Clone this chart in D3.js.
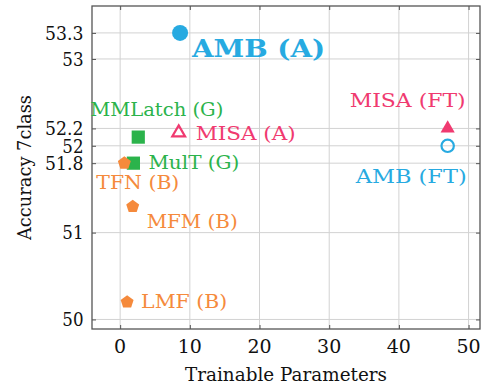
<!DOCTYPE html>
<html>
<head>
<meta charset="utf-8">
<script src="https://cdn.jsdelivr.net/npm/d3@7"></script>
<style>
  html, body { margin: 0; padding: 0; background: #fff; }
</style>
</head>
<body>
<div id="chart"></div>
<script>
"use strict";

// data
const methods = ["AMB (A)", "MMLatch (G)", "MISA (A)", "MulT (G)", "TFN (B)", "MFM (B)", "LMF (B)", "MISA (FT)", "AMB (FT)"];
const params = [8.6, 2.6, 8.4, 1.9, 0.6, 1.8, 1.0, 47, 47];
const accuracy = [53.3, 52.1, 52.15, 51.8, 51.8, 51.3, 50.2, 52.2, 52.0];
const groups = ["amb", "gen", "misa", "gen", "base", "base", "base", "misa", "amb"];
const shapes = ["circle", "square", "otriangle", "square", "pentagon", "pentagon", "pentagon", "triangle", "ocircle"];
const xTicks = [0, 10, 20, 30, 40, 50];
const yTicks = [50, 51, 51.8, 52, 52.2, 53, 53.3];

const colors = { amb: "#27aae1", gen: "#2bb34b", misa: "#f03a70", base: "#f58a3c" };

// label placement relative to marker: dx, dy, anchor, text length, bold
const labelPlace = [
  { dx: 12, dy: 24, anchor: "start", len: 133, bold: true, size: 27 },
  { dx: -48, dy: -21, anchor: "start", len: 133 },
  { dx: 17, dy: 7, anchor: "start", len: 100 },
  { dx: 15, dy: 6, anchor: "start", len: 91 },
  { dx: -28, dy: 26, anchor: "start", len: 83 },
  { dx: 14, dy: 21, anchor: "start", len: 91 },
  { dx: 14, dy: 6, anchor: "start", len: 86 },
  { dx: 18, dy: -21, anchor: "end", len: 116 },
  { dx: 19, dy: 37, anchor: "end", len: 111 },
];

const width = 481;
const height = 385;
const plot = { left: 92, right: 480, top: 6, bottom: 329 };
const serif = "'DejaVu Serif', 'Liberation Serif', serif";

const svg = d3.select("#chart").append("svg")
  .attr("width", width).attr("height", height)
  .attr("font-family", serif);

const x = d3.scaleLinear().domain([-4.04, 51.64]).range([plot.left, plot.right]);
const y = d3.scaleLinear().domain([49.89, 53.61]).range([plot.bottom, plot.top]);

// grid
const grid = svg.append("g");
grid.selectAll(".gx").data(xTicks).join("line")
  .attr("x1", (d) => x(d)).attr("x2", (d) => x(d))
  .attr("y1", plot.top).attr("y2", plot.bottom)
  .attr("stroke", "#d2d2d2").attr("stroke-width", 1);
grid.selectAll(".gy").data(yTicks).join("line")
  .attr("x1", plot.left).attr("x2", plot.right)
  .attr("y1", (d) => y(d)).attr("y2", (d) => y(d))
  .attr("stroke", "#d2d2d2").attr("stroke-width", 1);

// axes (ticks inward on all four sides)
const tickLen = 4;
const axisColor = "#555";
const axes = svg.append("g");
axes.append("g").attr("transform", `translate(0,${plot.bottom})`)
  .call(d3.axisTop(x).tickValues(xTicks).tickSize(tickLen).tickFormat(""));
axes.append("g").attr("transform", `translate(0,${plot.top})`)
  .call(d3.axisBottom(x).tickValues(xTicks).tickSize(tickLen).tickFormat(""));
axes.append("g").attr("transform", `translate(${plot.left},0)`)
  .call(d3.axisRight(y).tickValues(yTicks).tickSize(tickLen).tickFormat(""));
axes.append("g").attr("transform", `translate(${plot.right},0)`)
  .call(d3.axisLeft(y).tickValues(yTicks).tickSize(tickLen).tickFormat(""));
axes.selectAll(".domain").remove();
axes.selectAll("line").attr("stroke", axisColor).attr("stroke-width", 1);

svg.append("rect")
  .attr("x", plot.left).attr("y", plot.top)
  .attr("width", plot.right - plot.left).attr("height", plot.bottom - plot.top)
  .attr("fill", "none").attr("stroke", axisColor).attr("stroke-width", 1.3);

// tick labels
svg.append("g").selectAll("text").data(xTicks).join("text")
  .attr("x", (d) => x(d)).attr("y", 353)
  .attr("text-anchor", "middle").attr("font-size", 19).attr("fill", "#111")
  .text((d) => d);
svg.append("g").selectAll("text").data(yTicks).join("text")
  .attr("x", 83.5).attr("y", (d) => y(d)).attr("dy", "0.36em")
  .attr("text-anchor", "end").attr("font-size", 19).attr("fill", "#111")
  .attr("textLength", (d) => String(d).length * 10.6 - (String(d).includes(".") ? 4 : 0))
  .attr("lengthAdjust", "spacingAndGlyphs")
  .text((d) => d);

// axis titles
svg.append("text")
  .attr("x", (plot.left + plot.right) / 2).attr("y", 381)
  .attr("text-anchor", "middle").attr("font-size", 19).attr("fill", "#111")
  .attr("textLength", 202).attr("lengthAdjust", "spacingAndGlyphs")
  .text("Trainable Parameters");
svg.append("text")
  .attr("transform", `translate(31,${(plot.top + plot.bottom) / 2}) rotate(-90)`)
  .attr("text-anchor", "middle").attr("font-size", 19).attr("fill", "#111")
  .attr("textLength", 145).attr("lengthAdjust", "spacingAndGlyphs")
  .text("Accuracy 7class");

// markers
function polygon(n, r, rot) {
  const pts = d3.range(n).map((i) => {
    const a = rot + (i * 2 * Math.PI) / n;
    return [r * Math.cos(a), r * Math.sin(a)];
  });
  return "M" + pts.map((p) => p.join(",")).join("L") + "Z";
}
const shapePath = {
  circle: () => d3.arc()({ innerRadius: 0, outerRadius: 8, startAngle: 0, endAngle: 2 * Math.PI }),
  ocircle: () => d3.arc()({ innerRadius: 0, outerRadius: 6.2, startAngle: 0, endAngle: 2 * Math.PI }),
  square: () => "M-6.6,-6.6H6.6V6.6H-6.6Z",
  pentagon: () => polygon(5, 6.8, -Math.PI / 2),
  triangle: () => polygon(3, 8.2, -Math.PI / 2),
  otriangle: () => polygon(3, 7.4, -Math.PI / 2),
};

const points = methods.map((m, i) => ({
  name: m, px: params[i], acc: accuracy[i], group: groups[i], shape: shapes[i], place: labelPlace[i],
}));

svg.append("g").selectAll("path").data(points).join("path")
  .attr("transform", (d) => `translate(${x(d.px)},${y(d.acc)})`)
  .attr("d", (d) => shapePath[d.shape]())
  .attr("fill", (d) => (d.shape.startsWith("o") ? "none" : colors[d.group]))
  .attr("stroke", (d) => (d.shape.startsWith("o") ? colors[d.group] : "none"))
  .attr("stroke-width", 2.2);

svg.append("g").selectAll("text").data(points).join("text")
  .attr("x", (d) => x(d.px) + d.place.dx)
  .attr("y", (d) => y(d.acc) + d.place.dy)
  .attr("text-anchor", (d) => d.place.anchor)
  .attr("font-size", (d) => (d.place.bold ? 24 : 19))
  .attr("font-weight", (d) => (d.place.bold ? "bold" : "normal"))
  .attr("fill", (d) => colors[d.group])
  .attr("textLength", (d) => d.place.len)
  .attr("lengthAdjust", "spacingAndGlyphs")
  .text((d) => d.name);
</script>
</body>
</html>
